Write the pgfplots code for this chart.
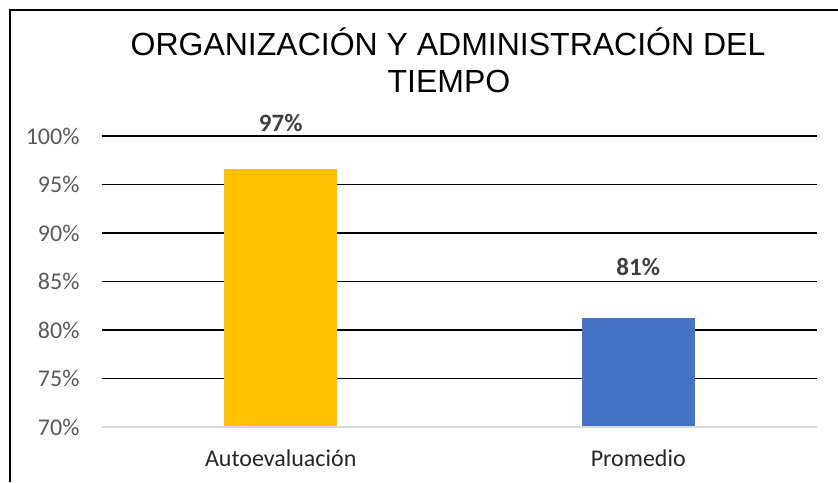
\documentclass[border=0pt]{standalone}
\usepackage{pgfplots}
\pgfplotsset{compat=1.18}
\usepackage{fontspec}
\setmainfont{Carlito}
\newfontfamily\titlefont{Liberation Sans}
\definecolor{barA}{HTML}{FFC000}
\definecolor{barB}{HTML}{4472C4}
\definecolor{tickgray}{HTML}{595959}
\definecolor{lblgray}{HTML}{404040}
\definecolor{basegray}{HTML}{D9D9D9}
\begin{document}
\begin{tikzpicture}
\path[use as bounding box] (0pt,0pt) rectangle (838pt,-482pt);
\draw[line width=2pt] (9.5pt,-482pt) -- (9.5pt,-10pt) -- (838pt,-10pt);
\node[anchor=base, font=\titlefont\fontsize{32}{38}\selectfont] at (448pt,-55pt) {ORGANIZACIÓN Y ADMINISTRACIÓN DEL};
\node[anchor=base, font=\titlefont\fontsize{32}{38}\selectfont] at (449pt,-92.7pt) {TIEMPO};
\begin{axis}[
  at={(102pt,-427pt)}, anchor=south west,
  scale only axis, width=715pt, height=291pt,
  xmin=-0.5, xmax=1.5, ymin=70, ymax=100,
  axis line style={draw=none},
  xtick={0,1}, xticklabels={Autoevaluación, Promedio},
  ytick={70,75,80,85,90,95,100},
  yticklabel={\pgfmathprintnumber{\tick}\%},
  /pgf/number format/assume math mode=true,
  tick style={draw=none},
  ymajorgrids, grid style={black, line width=1.6pt},
  yticklabel style={font=\fontsize{24}{28}\selectfont, text=tickgray, xshift=-19pt},
  xticklabel style={font=\fontsize{24}{28}\selectfont, text=black!85, yshift=-15pt},
  ybar, bar width=113pt, bar shift=0pt,
  clip=false,
  nodes near coords,
  nodes near coords style={font=\bfseries\fontsize{25}{29}\selectfont, text=lblgray},
]
\addplot[fill=barA, draw=none, nodes near coords={97\%}, every node near coord/.append style={yshift=34pt}] coordinates {(0,96.6)};
\addplot[fill=barB, draw=none, nodes near coords={81\%}, every node near coord/.append style={yshift=39pt}] coordinates {(1,81.2)};
\draw[basegray, line width=1.2pt] (axis cs:-0.5,70) -- (axis cs:1.5,70);
\end{axis}
\end{tikzpicture}
\end{document}
